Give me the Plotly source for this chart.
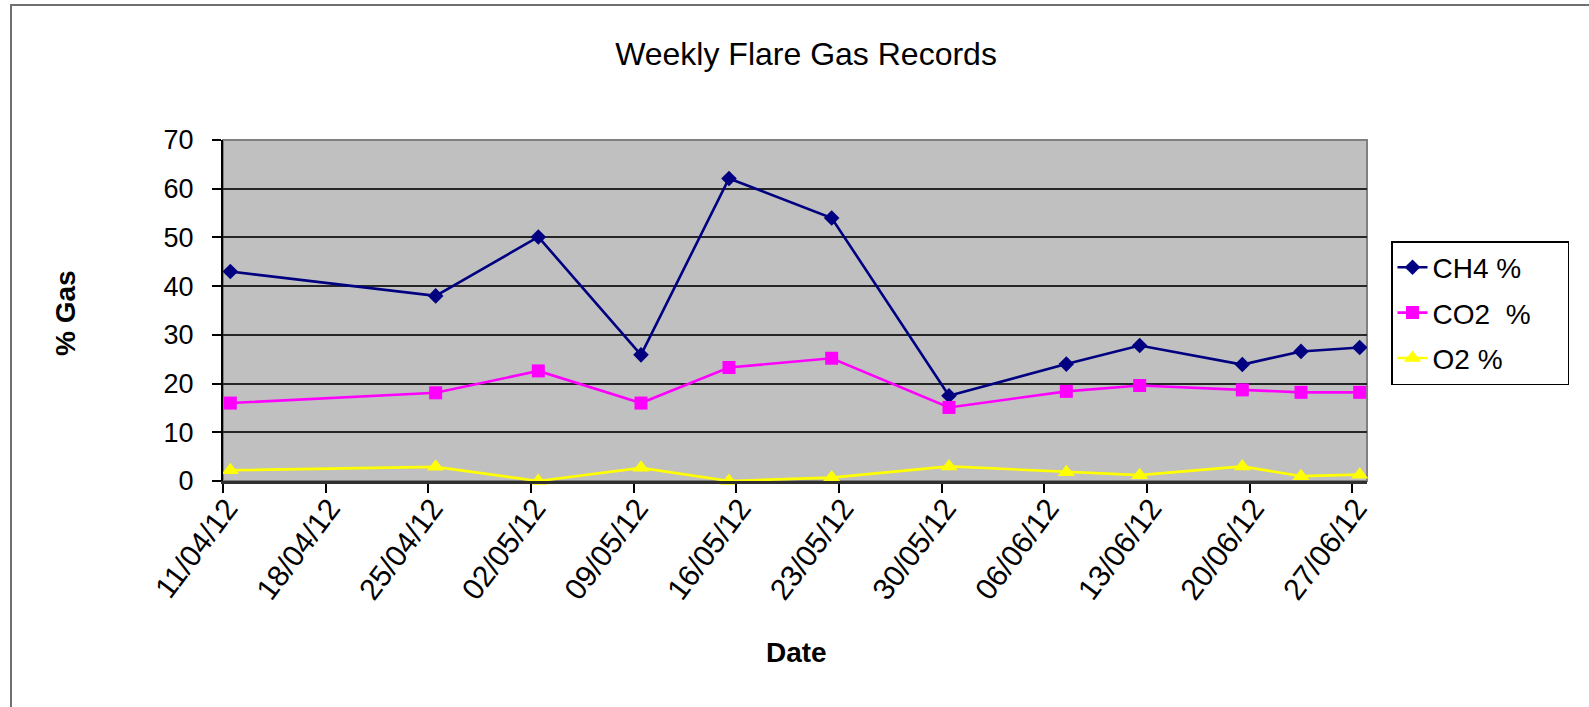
import pandas as pd
import plotly.graph_objects as go

# ---- data ----
dates = ["11/04/12", "25/04/12", "02/05/12", "09/05/12", "15/05/12", "22/05/12",
         "30/05/12", "07/06/12", "12/06/12", "19/06/12", "23/06/12", "27/06/12"]
ch4 = [43.0, 38.0, 50.1, 25.9, 62.1, 54.0, 17.5, 24.0, 27.8, 23.9, 26.6, 27.4]
co2 = [16.0, 18.1, 22.6, 16.0, 23.3, 25.2, 15.1, 18.4, 19.6, 18.7, 18.2, 18.2]
o2 = [2.2, 2.9, 0.0, 2.7, 0.0, 0.7, 3.0, 1.8, 1.2, 3.0, 1.0, 1.3]
tick_dates = ["11/04/12", "18/04/12", "25/04/12", "02/05/12", "09/05/12", "16/05/12",
              "23/05/12", "30/05/12", "06/06/12", "13/06/12", "20/06/12", "27/06/12"]
series_names = ["CH4 %", "CO2\u00a0 %", "O2 %"]

# Excel date axis: each day is a slot, points sit in the middle of the day
x = pd.to_datetime(dates, format="%d/%m/%y") + pd.Timedelta(hours=12)
tickvals = pd.to_datetime(tick_dates, format="%d/%m/%y")

FONT = "Liberation Sans, Arial, sans-serif"
W, H = 1589, 707
L, R, T, B = 223, 222, 140, 226

PAD = "\u00a0" * 4  # widens the legend box like the reference

fig = go.Figure()
fig.add_trace(go.Scatter(x=x, y=ch4, name=series_names[0] + PAD, mode="lines+markers",
                         legendgroup="a",
                         line=dict(color="#000080", width=2.6),
                         marker=dict(symbol="diamond", size=12, color="#000080")))
fig.add_trace(go.Scatter(x=x, y=co2, name=series_names[1] + PAD, mode="lines+markers",
                         legendgroup="b",
                         line=dict(color="#FF00FF", width=2.6),
                         marker=dict(symbol="square", size=13, color="#FF00FF")))
fig.add_trace(go.Scatter(x=x, y=o2, name=series_names[2] + PAD, mode="lines+markers",
                         legendgroup="c", cliponaxis=False,
                         line=dict(color="#FFFF00", width=2.6),
                         marker=dict(symbol="triangle-up", size=15, color="#FFFF00")))

pw = W - L - R
ph = H - T - B


def px_x(px):
    return (px - L) / pw


def px_y(py):
    return (H - B - py) / ph


fig.update_layout(
    width=W, height=H,
    margin=dict(l=L, r=R, t=T, b=B, pad=0, autoexpand=False),
    paper_bgcolor="white",
    plot_bgcolor="#C0C0C0",
    font=dict(family=FONT, size=24, color="black"),
    title=dict(text="Weekly Flare Gas Records", x=806 / W, xanchor="center",
               y=1 - 54 / H, yanchor="middle",
               font=dict(family=FONT, size=32, color="black")),
    showlegend=True,
    legend=dict(x=px_x(1391), xanchor="left", y=px_y(241), yanchor="top",
                bgcolor="white", bordercolor="black", borderwidth=1.5,
                font=dict(family=FONT, size=28, color="black"),
                tracegroupgap=6, traceorder="grouped"),
    xaxis=dict(type="date",
               range=["2012-04-11", "2012-06-28"],
               tickmode="array", tickvals=tickvals, ticktext=tick_dates,
               tickangle=-53, ticks="outside", ticklen=9, tickwidth=1.5,
               tickcolor="black",
               ticklabelstandoff=-14, ticklabelshift=4,
               tickfont=dict(family=FONT, size=30, color="black"),
               showgrid=False, zeroline=False,
               showline=True, linecolor="#303030", linewidth=2.5),
    yaxis=dict(range=[0, 70], dtick=10, tick0=0,
               ticks="outside", ticklen=9, tickwidth=1.5, tickcolor="black",
               ticklabelstandoff=13,
               tickfont=dict(family=FONT, size=27, color="black"),
               showgrid=True, gridcolor="#262626", gridwidth=1.7,
               zeroline=False,
               showline=True, linecolor="black", linewidth=2),
    annotations=[
        dict(text="<b>% Gas</b>", xref="paper", yref="paper",
             x=px_x(65), y=px_y(313), xanchor="center", yanchor="middle",
             textangle=-90, showarrow=False,
             font=dict(family=FONT, size=28, color="black")),
        dict(text="<b>Date</b>", xref="paper", yref="paper",
             x=px_x(796), y=px_y(652), xanchor="center", yanchor="middle",
             showarrow=False,
             font=dict(family=FONT, size=28, color="black")),
    ],
    shapes=[
        # plot area frame (top / right grey border)
        dict(type="rect", xref="paper", yref="paper", x0=0, x1=1, y0=0, y1=1,
             line=dict(color="#808080", width=2), layer="below"),
        # outer chart frame
        dict(type="rect", xref="paper", yref="paper",
             x0=px_x(11), x1=px_x(1600), y0=px_y(720), y1=px_y(5),
             line=dict(color="#707070", width=2)),
    ],
)

fig.write_html("out.html",
               config={"displayModeBar": False},
               post_script="document.body.style.margin='0';"
                           "document.body.style.overflow='hidden';")
